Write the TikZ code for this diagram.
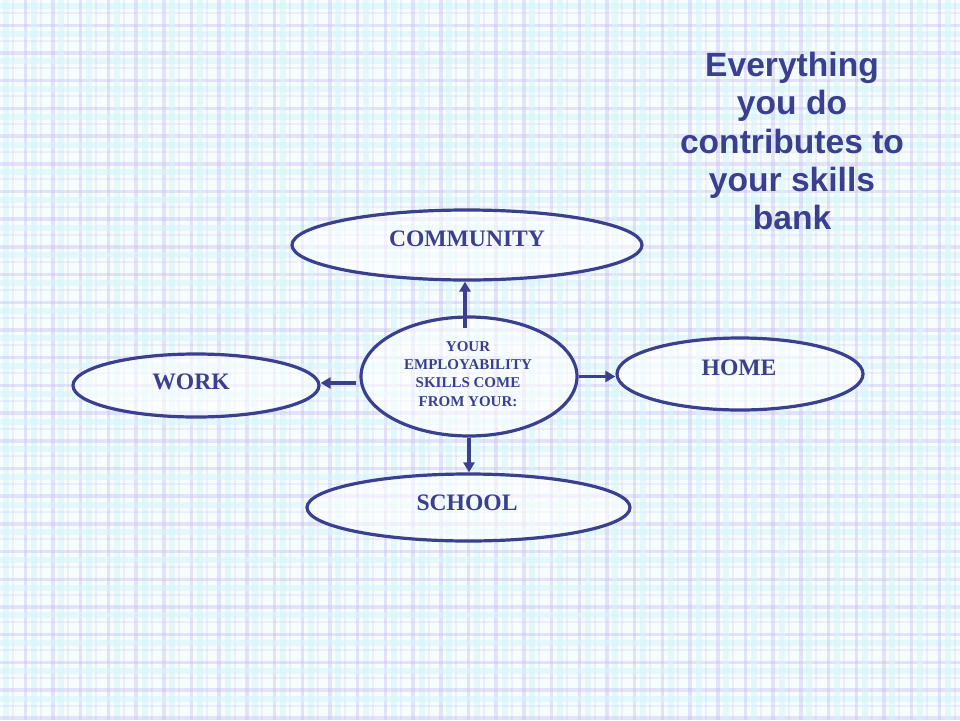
\documentclass[tikz,border=0pt]{standalone}
\usepackage{fontspec}
\setmainfont{Liberation Serif}
\newfontfamily\titlefont{Liberation Sans}
\usetikzlibrary{shapes.geometric,arrows.meta}
\definecolor{navy}{HTML}{3A3F8E}
\definecolor{bgc}{HTML}{F6FDFF}
\definecolor{lav}{HTML}{C4BCF0}
\definecolor{cya}{HTML}{D4F4FA}
\tikzset{
  oval/.style={ellipse, draw=navy, line width=3.2pt, fill=white, fill opacity=0.55, text opacity=1,
    text=navy, inner sep=0pt},
  lbl/.style={text=navy, font=\bfseries\fontsize{23.6}{26}\selectfont},
  link/.style={draw=navy, line width=3.2pt, -{Triangle[length=10pt,width=11pt]}},
}
\begin{document}
\begin{tikzpicture}[x=1pt,y=-1pt]
\useasboundingbox (0,0) rectangle (960,720);
\fill[bgc] (0,0) rectangle (960,720);
% plaid background
\foreach \i in {0,...,35} {
  \fill[cya, opacity=0.5] ({\i*27.7+3},0) rectangle ({\i*27.7+9},720);
  \fill[cya, opacity=0.5] (0,{\i*27.7+3}) rectangle (960,{\i*27.7+9});
  \fill[lav, opacity=0.22] ({\i*27.7+12},0) rectangle ({\i*27.7+14},720);
  \fill[lav, opacity=0.22] (0,{\i*27.7+12}) rectangle (960,{\i*27.7+14});
  \fill[lav, opacity=0.4] ({\i*27.7+23.5},0) rectangle ({\i*27.7+27},720);
  \fill[lav, opacity=0.4] (0,{\i*27.7+23.5}) rectangle (960,{\i*27.7+27});
}
% ellipses
\node[oval, minimum width=350pt, minimum height=70pt] (comm) at (467,245) {};
\node[oval, minimum width=216pt, minimum height=119pt] (center) at (469,376.5) {};
\node[oval, minimum width=246pt, minimum height=63pt] (work) at (196,385.5) {};
\node[oval, minimum width=246pt, minimum height=72pt] (home) at (740,374) {};
\node[oval, minimum width=323pt, minimum height=67pt] (school) at (468.5,507.5) {};
% labels
\node[lbl] (commt) at (467,239) {COMMUNITY};
\node[lbl] (workt) at (191,382) {WORK};
\node[lbl] (homet) at (739,368) {HOME};
\node[lbl] (schoolt) at (467,503) {SCHOOL};
\node[text=navy, font=\bfseries\fontsize{15}{18.2}\selectfont, align=center] (centert) at (468,374) {YOUR\\EMPLOYABILITY\\SKILLS COME\\FROM YOUR:};
\node[text=navy, font=\titlefont\bfseries\fontsize{33.6}{38.2}\selectfont, align=center] (title) at (792,141) {Everything\\you do\\contributes to\\your skills\\bank};
% connectors
\coordinate (cup) at (465,328);
\coordinate (cleft) at (356,383);
\draw[link] (cup) -- (comm.south -| cup);
\draw[link] (cleft) -- (work.east |- cleft);
\draw[link] (center.east) -- (home.west |- center.east);
\draw[link] (center.south) -- (school.north -| center.south);
\end{tikzpicture}
\end{document}
